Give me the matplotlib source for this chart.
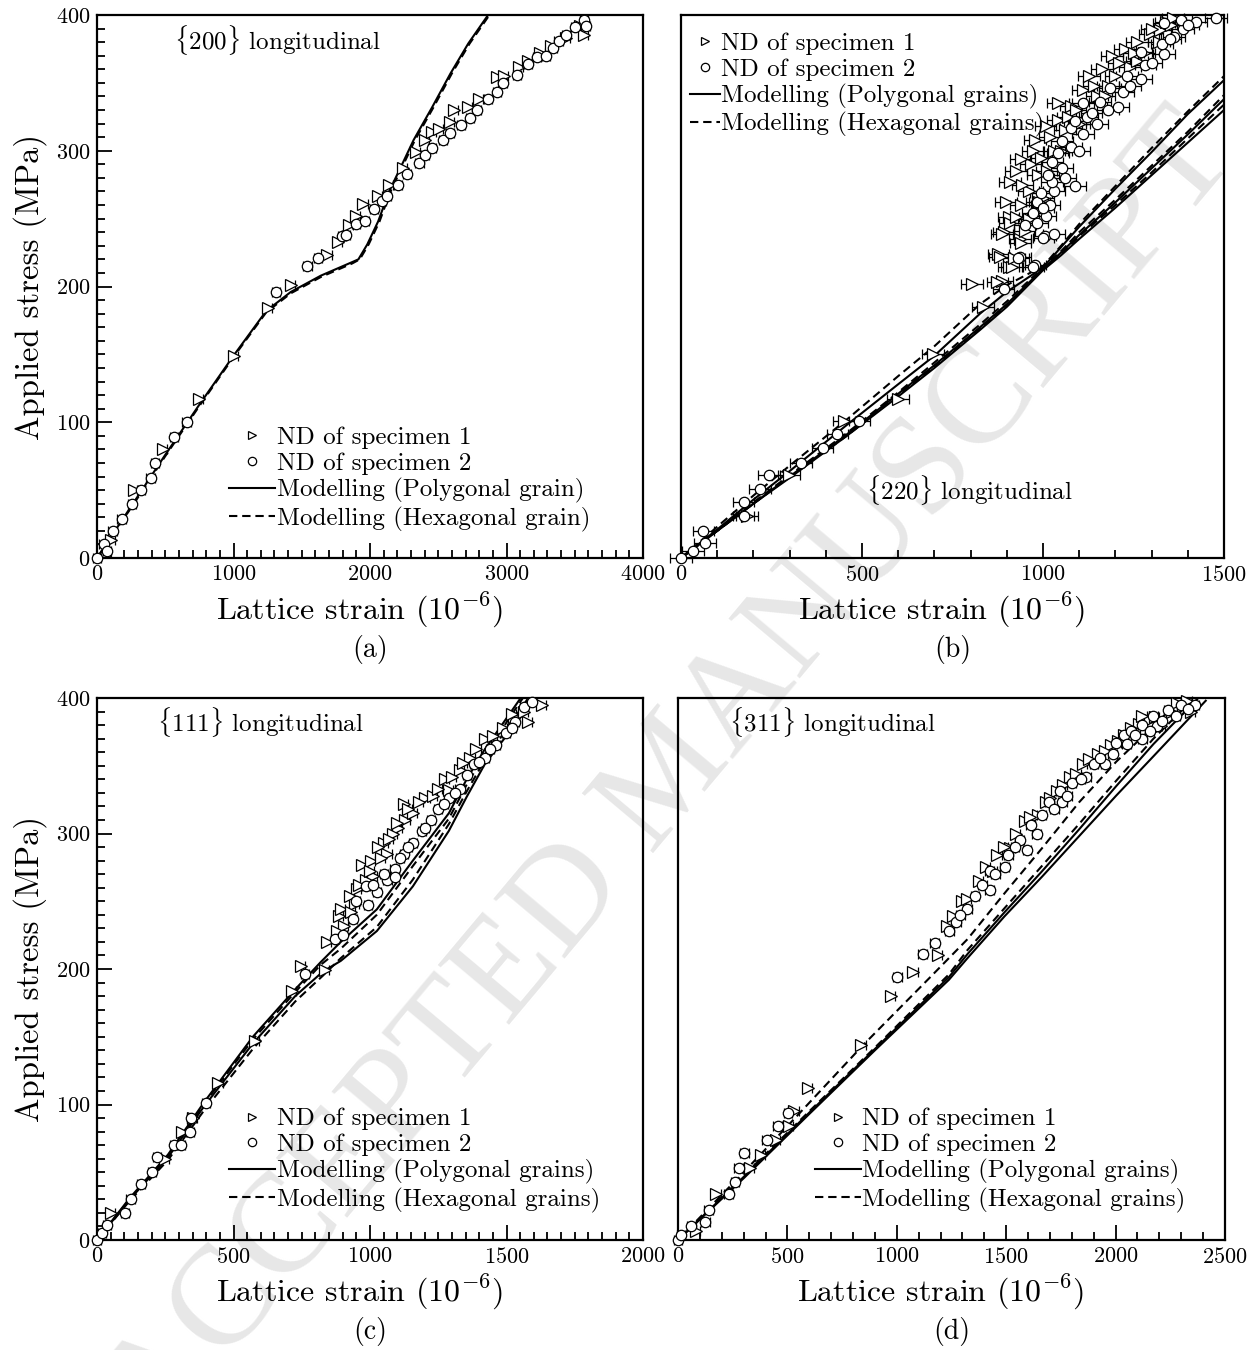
import matplotlib
matplotlib.use('Agg')
import matplotlib.pyplot as plt
from matplotlib.lines import Line2D
from matplotlib.ticker import MultipleLocator

plt.rcParams['font.family'] = 'cmr10'
plt.rcParams['mathtext.fontset'] = 'cm'
plt.rcParams['axes.formatter.use_mathtext'] = True
plt.rcParams['axes.unicode_minus'] = False
plt.rcParams['lines.scale_dashes'] = False

# ---- (a) {200} ----
a_s1_strain = [101, 272, 484, 749, 1000, 1251, 1423, 1688, 1767, 1847, 1900, 1952, 2058, 2138, 2243, 2336,
               2402, 2455, 2508, 2587, 2614, 2720, 2799, 2931, 2984, 3090, 3156, 3249, 3328, 3434, 3540, 3566]
a_s1_stress = [13, 50, 80, 117, 149, 184, 201, 223, 233, 245, 252, 261, 267, 275, 287, 299,
               308, 314, 316, 321, 330, 332, 338, 354, 355, 362, 366, 372, 377, 383, 392, 385]
a_s2_strain = [0, 48, 74, 114, 180, 254, 325, 392, 426, 563, 656, 1312, 1542, 1622, 1794, 1825, 1899, 1966,
               2032, 2085, 2124, 2204, 2270, 2362, 2402, 2455, 2534, 2587, 2667, 2733, 2786, 2865, 2931, 2971,
               3077, 3156, 3222, 3288, 3341, 3381, 3434, 3500, 3566, 3579]
a_s2_stress = [0, 10, 5, 20, 29, 40, 50, 59, 70, 89, 100, 196, 215, 221, 237, 238, 246, 248,
               257, 263, 267, 275, 283, 291, 297, 302, 308, 313, 319, 324, 330, 338, 343, 350,
               356, 364, 369, 370, 376, 381, 385, 391, 396, 392]
a_err = 30
a_poly_strain = [0, 250, 500, 750, 1000, 1240, 1420, 1640, 1870, 1915, 1980, 2060, 2140, 2240, 2320, 2455, 2590, 2720, 2865]
a_poly_stress = [0, 38, 76, 113, 149, 182, 196, 208, 218, 220, 231, 248, 270, 291, 308, 332, 357, 379, 400]
a_hex_strain = [0, 250, 500, 750, 1000, 1240, 1420, 1640, 1870, 1925, 1990, 2070, 2150, 2250, 2330, 2465, 2600, 2730, 2875]
a_hex_stress = [0, 37, 75, 112, 148, 181, 195, 207, 217, 220, 231, 248, 270, 291, 308, 332, 357, 379, 400]

# ---- (b) {220} ----
b_s1_strain = [182, 298, 451, 599, 696, 803, 835, 886, 905, 877, 937, 891, 905, 874, 915, 880, 920, 938, 886, 949,
               909, 926, 897, 938, 960, 909, 943, 985, 926, 966, 938, 972, 995, 1000, 1018, 978, 1030, 1007, 1041, 1060,
               1078, 1041, 1090, 1111, 1150, 1128, 1162, 1180, 1200, 1191, 1240, 1226, 1260, 1260, 1280, 1295, 1320,
               1324, 1340, 1353,
               960, 990, 1010, 1050, 1070, 1100, 1140, 1170, 1210, 1250, 1300, 1360]
b_s1_stress = [31, 61, 101, 117, 150, 202, 185, 204, 214, 224, 235, 240, 251, 203, 214, 222, 221, 232, 239, 241,
               247, 251, 262, 260, 270, 277, 275, 282, 285, 290, 294, 300, 295, 265, 310, 308, 300, 318, 323, 315,
               333, 335, 330, 345, 340, 355, 360, 348, 355, 370, 362, 375, 366, 380, 372, 386, 380,
               389, 395, 393,
               250, 262, 285, 300, 325, 320, 348, 340, 365, 372, 390, 398]
b_s2_strain = [0, 34, 67, 62, 173, 173, 219, 243, 331, 391, 432, 493, 891, 937, 979, 932, 972, 1006, 1030, 1001,
               984, 1007, 972, 1018, 984, 1030, 995, 1024, 1088, 1013, 1053, 1024, 1041, 1078, 1053, 1111, 1078, 1088,
               1122, 1111, 1134, 1157, 1208, 1186, 1220, 1272, 1232, 1283, 1272, 1335, 1329, 1362, 1387, 1335, 1381,
               1424, 1477,
               950, 1000, 1060, 1100, 1150, 1180, 1240, 1300, 1350, 1400]
b_s2_stress = [0, 5, 11, 20, 31, 41, 51, 61, 70, 81, 91, 101, 198, 222, 216, 221, 214, 237, 239, 236,
               247, 252, 254, 260, 262, 270, 269, 277, 274, 282, 287, 292, 298, 303, 307, 312, 317, 322,
               325, 335, 328, 336, 332, 346, 343, 353, 355, 363, 373, 371, 379, 384, 390, 394, 396,
               395, 398,
               245, 258, 280, 300, 320, 330, 348, 365, 382, 393]
b_err = 30
b_line_strain = [0, 100, 200, 300, 458, 600, 700, 826, 900, 1000, 1050, 1100, 1200, 1300, 1400, 1500]
b_poly1 = [0, 21, 43, 64, 98, 128, 149, 180, 196, 214, 229, 244, 272, 299, 327, 352]
b_poly2 = [0, 20, 40, 60, 91, 121, 142, 170, 187, 213, 225, 238, 262, 287, 312, 338]
b_poly3 = [0, 20, 40, 59, 90, 119, 140, 168, 185, 212, 223, 235, 258, 282, 306, 330]
b_hex1 = [0, 23, 46, 68, 102, 134, 156, 187, 201, 215, 230, 246, 274, 302, 329, 355]
b_hex2 = [0, 20, 41, 61, 92, 122, 144, 172, 189, 214, 226, 240, 264, 289, 314, 341]
b_hex3 = [0, 20, 40, 60, 90, 120, 141, 169, 186, 213, 224, 237, 260, 284, 309, 334]

# ---- (c) {111} ----
c_s1_strain = [50, 248, 313, 353, 445, 577, 715, 748, 834, 841, 887, 893, 946, 952, 972, 1005, 1012, 1051, 1064, 1104,
               1130, 1157, 1203, 1229, 1275, 1289, 1328, 1368, 1420, 1486, 1526, 1565, 1631, 1578,
               905, 925, 985, 1030, 1085, 1125,
               880, 930, 960, 1000, 1040, 1070, 1100, 1140, 1180, 1250, 1300, 1340, 1390, 1450, 1520]
c_s1_stress = [20, 60, 80, 90, 116, 147, 184, 202, 199, 220, 239, 244, 248, 259, 277, 280, 269, 293, 285, 304,
               310, 315, 326, 328, 340, 332, 347, 356, 370, 378, 386, 390, 395, 382,
               232, 254, 266, 290, 300, 322,
               228, 242, 262, 272, 282, 296, 308, 318, 323, 333, 342, 352, 362, 372, 388]
c_s2_strain = [0, 17, 37, 103, 123, 162, 202, 221, 281, 307, 340, 346, 399, 761, 873, 939, 985, 992, 1025, 1064,
               1090, 1090, 1124, 1157, 1190, 1223, 1249, 1289, 1328, 1354, 1381, 1420, 1460, 1499, 1532, 1565, 1592,
               900, 950, 1010, 1050, 1110, 1140, 1200, 1270, 1310, 1400, 1440, 1520]
c_s2_stress = [0, 5, 11, 20, 30, 41, 50, 61, 70, 70, 80, 90, 101, 196, 222, 237, 261, 247, 257, 266,
               274, 268, 285, 293, 302, 310, 318, 326, 333, 343, 351, 356, 365, 374, 382, 393, 397,
               225, 250, 262, 270, 282, 290, 304, 322, 330, 353, 362, 378]
c_err = 15
c_poly1_strain = [0, 120, 260, 390, 571, 726, 819, 893, 1025, 1157, 1289, 1354, 1420, 1552]
c_poly1_stress = [0, 31, 63, 101, 150, 185, 205, 220, 244, 280, 315, 340, 362, 400]
c_poly2_strain = [0, 120, 260, 390, 571, 726, 827, 893, 1025, 1157, 1289, 1354, 1420, 1605]
c_poly2_stress = [0, 30, 61, 98, 145, 180, 198, 206, 228, 261, 302, 327, 351, 400]
c_hex1_strain = [0, 120, 260, 390, 571, 726, 827, 893, 1025, 1157, 1289, 1354, 1420, 1580]
c_hex1_stress = [0, 29, 59, 95, 141, 176, 195, 208, 231, 266, 307, 331, 354, 400]
c_hex2_strain = [0, 120, 260, 390, 571, 726, 819, 893, 1025, 1157, 1289, 1354, 1420, 1560]
c_hex2_stress = [0, 30, 62, 100, 148, 183, 203, 215, 240, 276, 311, 336, 358, 400]

# ---- (d) {311} ----
d_s1_strain = [82, 175, 328, 379, 447, 507, 532, 592, 838, 974, 1076, 1187, 1255, 1298, 1374, 1408, 1459, 1519,
               1544, 1585, 1646, 1680, 1731, 1791, 1850, 1918, 1978, 2037, 2105, 2156, 2207, 2259, 2327, 2344, 2122,
               1230, 1320, 1440, 1490, 1610, 1700, 1760, 1820, 1880, 1950, 2010, 2070, 2180, 2280]
d_s1_stress = [7, 34, 53, 63, 74, 84, 95, 112, 144, 180, 198, 210, 239, 250, 265, 275, 284, 289,
               300, 309, 314, 323, 331, 342, 351, 359, 365, 373, 381, 384, 379, 390, 398, 390, 387,
               232, 252, 272, 290, 312, 326, 336, 344, 355, 361, 368, 378, 386, 396]
d_s2_strain = [0, 14, 61, 124, 141, 231, 260, 277, 303, 405, 456, 503, 1003, 1119, 1173, 1272, 1323, 1357, 1425,
               1425, 1510, 1493, 1561, 1595, 1612, 1663, 1697, 1748, 1757, 1799, 1867, 1901, 1952, 1986, 2003, 2037,
               2071, 2122, 2122, 2173, 2190, 2241, 2301, 2361, 2276, 2156,
               1240, 1290, 1390, 1450, 1540, 1640, 1720, 1780, 1840, 1930, 2050, 2090, 2210, 2330]
d_s2_stress = [0, 4, 10, 13, 22, 34, 43, 53, 64, 74, 84, 94, 194, 211, 219, 235, 244, 254, 272,
               258, 284, 275, 295, 288, 306, 314, 323, 331, 323, 337, 342, 351, 351, 359, 367, 373,
               376, 380, 370, 387, 379, 391, 395, 395, 387, 376,
               228, 240, 262, 270, 290, 300, 318, 328, 340, 356, 366, 373, 383, 392]
d_err = 20
d_poly1_strain = [0, 303, 600, 900, 1238, 1323, 1493, 1663, 1833, 2003, 2173, 2378]
d_poly1_stress = [0, 47, 94, 141, 194, 211, 242, 272, 303, 335, 366, 400]
d_poly2_strain = [0, 303, 600, 900, 1238, 1323, 1493, 1663, 1833, 2003, 2173, 2412]
d_poly2_stress = [0, 46, 93, 140, 192, 208, 239, 268, 298, 328, 357, 398]
d_hex1_strain = [0, 300, 500, 847, 1153, 1323, 1493, 1663, 1833, 2003, 2173, 2300]
d_hex1_stress = [0, 50, 84, 144, 194, 222, 256, 289, 323, 353, 379, 400]
d_hex2_strain = [0, 303, 600, 900, 1238, 1323, 1493, 1663, 1833, 2003, 2173, 2360]
d_hex2_stress = [0, 48, 95, 142, 196, 214, 245, 276, 307, 339, 370, 400]

W, H = 1254, 1350
fig = plt.figure(figsize=(W / 100, H / 100), dpi=100)
DASH = (6, 3.5)


def box(x0, y0, x1, y1):
    # pixel box (top-left origin) -> figure fraction rect
    return [x0 / W, 1 - y1 / H, (x1 - x0) / W, (y1 - y0) / H]


def panel(rect, s1, s2, err, poly, hexa, xmax, xmajor, xminor, yaxis, title, title_xy, leg_xy, grain,
          handlelength):
    ax = fig.add_axes(rect)
    ax.patch.set_alpha(0)
    for x, y in poly:
        ax.plot(x, y, color='k', lw=1.5, zorder=2)
    for x, y in hexa:
        ax.plot(x, y, color='k', lw=1.5, dashes=DASH, zorder=2)
    for (x, y), m, ms in [(s1, '>', 8), (s2, 'o', 7.5)]:
        cont = ax.errorbar(x, y, xerr=err, fmt=m, ms=ms, mfc='white', mec='k', mew=0.9,
                           ecolor='k', elinewidth=0.9, capsize=3.5, capthick=0.9, zorder=3)
        for art in cont.get_children():
            art.set_clip_on(False)
    ax.set_xlim(0, xmax)
    ax.set_ylim(0, 400)
    ax.xaxis.set_major_locator(MultipleLocator(xmajor))
    ax.xaxis.set_minor_locator(MultipleLocator(xminor))
    ax.yaxis.set_major_locator(MultipleLocator(100))
    ax.yaxis.set_minor_locator(MultipleLocator(10))
    ax.tick_params(which='both', direction='in', top=False, right=False, width=1.3,
                   labelsize=16, pad=5)
    ax.tick_params(which='major', length=11)
    ax.tick_params(which='minor', length=5.5)
    if not yaxis:
        ax.tick_params(axis='y', which='both', left=False, labelleft=False)
    for sp in ax.spines.values():
        sp.set_linewidth(1.6)
    ax.text(title_xy[0], title_xy[1], title, transform=ax.transAxes, fontsize=18,
            ha='center', va='center')
    handles = [Line2D([], [], ls='none', marker='>', ms=6, mfc='white', mec='k', mew=0.9),
               Line2D([], [], ls='none', marker='o', ms=6, mfc='white', mec='k', mew=0.9),
               Line2D([], [], color='k', lw=1.5),
               Line2D([], [], color='k', lw=1.5, dashes=DASH)]
    labels = ['ND of specimen 1', 'ND of specimen 2',
              'Modelling (Polygonal %s)' % grain, 'Modelling (Hexagonal %s)' % grain]
    ax.legend(handles, labels, loc='upper left', bbox_to_anchor=leg_xy, frameon=False,
              fontsize=18, borderpad=0, borderaxespad=0, labelspacing=0.13,
              handlelength=handlelength, handletextpad=0.05)
    ax.set_xlabel(r'Lattice strain $(10^{-6})$', fontsize=23)
    ax.xaxis.set_label_coords(0.48, -0.096)
    ax.xaxis.label.set_va('center')
    if yaxis:
        ax.set_ylabel('Applied stress (MPa)', fontsize=23.5)
        ax.yaxis.set_label_coords(-0.123, 0.5)
        ax.yaxis.label.set_va('center')
    return ax


ax_a = panel(box(97, 15, 643, 558), (a_s1_strain, a_s1_stress), (a_s2_strain, a_s2_stress), a_err,
             [(a_poly_strain, a_poly_stress)], [(a_hex_strain, a_hex_stress)],
             4000, 1000, 100, True, r'$\{200\}$ longitudinal', (0.33, 0.954), (0.242, 0.242), 'grain', 1.85)
ax_b = panel(box(681, 15, 1224, 558), (b_s1_strain, b_s1_stress), (b_s2_strain, b_s2_stress), b_err,
             [(b_line_strain, b_poly1), (b_line_strain, b_poly2), (b_line_strain, b_poly3)],
             [(b_line_strain, b_hex1), (b_line_strain, b_hex2), (b_line_strain, b_hex3)],
             1500, 500, 100, False, r'$\{220\}$ longitudinal', (0.532, 0.125), (0.017, 0.968), 'grains', 1.2)
ax_c = panel(box(97, 698, 643, 1240), (c_s1_strain, c_s1_stress), (c_s2_strain, c_s2_stress), c_err,
             [(c_poly1_strain, c_poly1_stress), (c_poly2_strain, c_poly2_stress)],
             [(c_hex1_strain, c_hex1_stress), (c_hex2_strain, c_hex2_stress)],
             2000, 500, 50, True, r'$\{111\}$ longitudinal', (0.30, 0.956), (0.242, 0.244), 'grains', 1.85)
ax_d = panel(box(678, 698, 1225, 1240), (d_s1_strain, d_s1_stress), (d_s2_strain, d_s2_stress), d_err,
             [(d_poly1_strain, d_poly1_stress), (d_poly2_strain, d_poly2_stress)],
             [(d_hex1_strain, d_hex1_stress), (d_hex2_strain, d_hex2_stress)],
             2500, 500, 100, False, r'$\{311\}$ longitudinal', (0.2815, 0.956), (0.25, 0.244), 'grains', 1.85)

for ax, cap in [(ax_a, '(a)'), (ax_b, '(b)'), (ax_c, '(c)'), (ax_d, '(d)')]:
    ax.text(0.5, -0.168, cap, transform=ax.transAxes, fontsize=20, ha='center', va='center')

# journal watermark, behind the axes
fig.text(672 / W, 1 - 778 / H, 'ACCEPTED MANUSCRIPT', family='Liberation Serif', fontsize=102,
         color='#e7e7e7', rotation=50, ha='center', va='center', rotation_mode='anchor', zorder=-5)

fig.savefig('out.png', dpi=100)
